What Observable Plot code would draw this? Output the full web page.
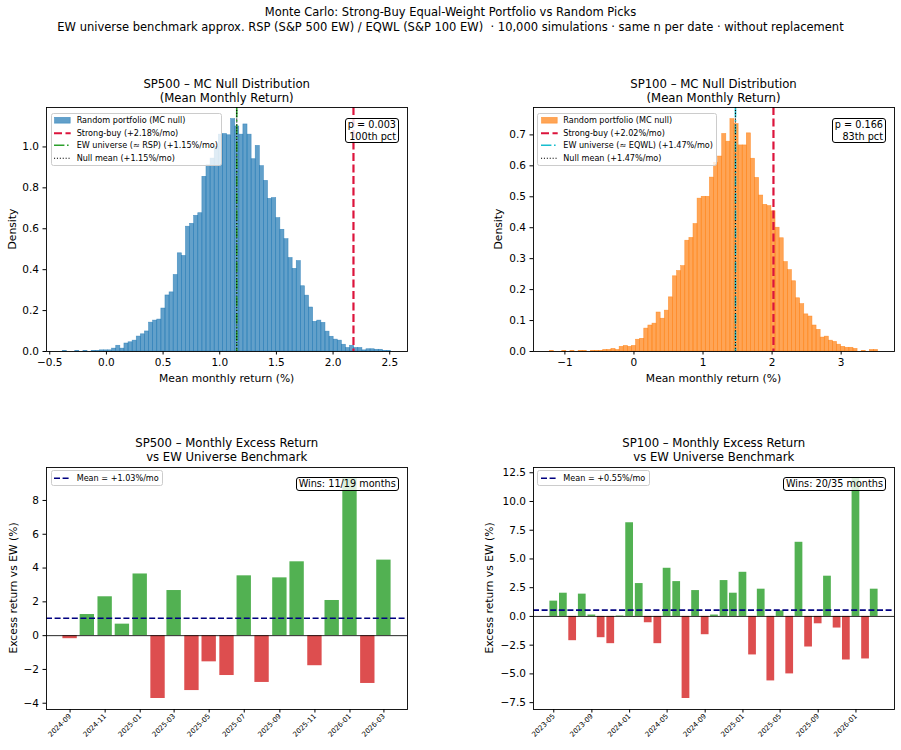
<!DOCTYPE html>
<html><head><meta charset="utf-8">
<script src="https://cdn.jsdelivr.net/npm/d3@7"></script>
<script src="https://cdn.jsdelivr.net/npm/@observablehq/plot@0.6"></script>
<style>
body{margin:0;background:#fff;}
#fig{position:relative;width:901px;height:750px;font-family:"DejaVu Sans",sans-serif;color:#000;overflow:hidden;background:#fff;}
.panel{position:absolute;}
.title{position:absolute;font-size:11.7px;line-height:14px;text-align:center;white-space:nowrap;transform:translateX(-50%);}
.suptitle{position:absolute;left:450.5px;top:4.5px;font-size:11.5px;line-height:15px;text-align:center;white-space:nowrap;transform:translateX(-50%);}
.xlab{position:absolute;font-size:10.75px;white-space:nowrap;transform:translate(-50%,-50%);}
.ylab{position:absolute;font-size:10.75px;white-space:nowrap;transform:translate(-50%,-50%) rotate(-90deg);}
.legend{position:absolute;background:rgba(255,255,255,0.8);border:1px solid #cccccc;border-radius:2.5px;padding:0.5px 3.5px 0.5px 2.6px;font-size:8.1px;}
.legend .row{display:flex;align-items:center;height:12.5px;white-space:nowrap;}
.legend .row svg{flex:none;margin-right:5.7px;}
.note{position:absolute;background:rgba(255,255,255,0.8);border:1px solid #000;border-radius:3px;padding:0 2px;font-size:9.7px;line-height:11.4px;text-align:right;white-space:nowrap;}
</style></head>
<body><div id="fig"></div>
<script>
// ---------- DATA ----------
// Monte Carlo null distributions (density per bin)
const sp500BinStart = -0.384;
const sp500BinWidth = 0.0362;
const sp500Density = [0.0028,0,0,0.0028,0,0.0028,0,0.0028,0.0028,0.0056,0.0056,0.0056,0.014,0.028,0.014,0.039,0.045,0.053,0.073,0.084,
  0.098,0.141,0.151,0.156,0.21,0.274,0.289,0.374,0.48,0.467,0.61,0.624,0.663,0.676,0.854,0.91,0.943,1.0,1.06,1.063,
  1.057,1.136,1.10,1.06,1.11,1.06,0.94,1.005,0.906,0.834,0.746,0.75,0.652,0.595,0.549,0.457,0.404,0.442,0.319,0.273,
  0.215,0.145,0.151,0.14,0.097,0.072,0.058,0.053,0.033,0.017,0.028,0.017,0.017,0.0056,0.011,0.011,0.0084,0.0084,0.0028,0.0028];
const sp100BinStart = -1.217;
const sp100BinWidth = 0.0594;
const sp100Density = [0.0017,0,0,0.0017,0,0.0017,0,0.0017,0.0017,0,0.0017,0.0017,0.0017,0.005,0.005,0.0084,0.005,0.015,0.018,0.015,
  0.018,0.038,0.041,0.074,0.084,0.09,0.126,0.106,0.132,0.175,0.243,0.26,0.276,0.358,0.367,0.412,0.494,0.5,0.5,0.562,
  0.61,0.63,0.703,0.678,0.751,0.735,0.666,0.666,0.705,0.623,0.561,0.504,0.474,0.47,0.453,0.40,0.366,0.289,0.263,0.227,
  0.172,0.153,0.12,0.113,0.084,0.07,0.045,0.048,0.035,0.031,0.022,0.015,0.012,0.012,0.0084,0,0.0017,0,0.005,0.005];

const sp500StrongBuy = 2.18, sp500EW = 1.15, sp500NullMean = 1.15, sp500P = "0.003", sp500Pct = "100th";
const sp100StrongBuy = 2.02, sp100EW = 1.47, sp100NullMean = 1.47, sp100P = "0.166", sp100Pct = "83th";

const sp500HistXTicks = [-0.5, 0, 0.5, 1.0, 1.5, 2.0, 2.5];
const sp500HistYTicks = [0, 0.2, 0.4, 0.6, 0.8, 1.0];
const sp100HistXTicks = [-1, 0, 1, 2, 3];
const sp100HistYTicks = [0, 0.1, 0.2, 0.3, 0.4, 0.5, 0.6, 0.7];

// Monthly excess returns vs EW universe (%)
const sp500Months = ["2024-09","2024-10","2024-11","2024-12","2025-01","2025-02","2025-03","2025-04","2025-05","2025-06",
  "2025-07","2025-08","2025-09","2025-10","2025-11","2025-12","2026-01","2026-02","2026-03"];
const sp500Excess = [-0.18,1.25,2.3,0.68,3.65,-3.72,2.67,-3.25,-1.55,-2.36,3.54,-2.77,3.42,4.37,-1.78,2.08,9.3,-2.83,4.47];
const sp500Mean = 1.03;
const sp500DateTicks = ["2024-09","2024-11","2025-01","2025-03","2025-05","2025-07","2025-09","2025-11","2026-01","2026-03"];
const sp500ExcessYTicks = [-4,-2,0,2,4,6,8];

const sp100Months = ["2023-05","2023-06","2023-07","2023-08","2023-09","2023-10","2023-11","2023-12",
  "2024-01","2024-02","2024-03","2024-04","2024-05","2024-06","2024-07","2024-08","2024-09","2024-10","2024-11","2024-12",
  "2025-01","2025-02","2025-03","2025-04","2025-05","2025-06","2025-07","2025-08","2025-09","2025-10","2025-11","2025-12",
  "2026-01","2026-02","2026-03"];
const sp100Excess = [1.33,2.02,-2.11,1.94,0.12,-1.85,-2.37,0.04,
  8.15,2.86,-0.55,-2.37,4.19,3.03,-7.14,2.25,-1.59,0.12,3.12,2.02,
  3.84,-3.35,2.37,-5.61,0.49,-5.0,6.45,-2.66,-0.64,3.5,-1.01,-3.79,
  12.0,-3.7,2.37];
const sp100Mean = 0.55;
const sp100DateTicks = ["2023-05","2023-09","2024-01","2024-05","2024-09","2025-01","2025-05","2025-09","2026-01"];
const sp100ExcessYTicks = [-7.5,-5,-2.5,0,2.5,5,7.5,10,12.5];

// ---------- HELPERS ----------
const fig = document.getElementById("fig");
const C_BLUE = "#1f77b4", C_ORANGE = "#ff7f0e", C_RED = "#dc143c", C_GREEN = "#2ca02c", C_CYAN = "#17becf";
const C_WIN = "#2ca02c", C_LOSS = "#d62728";
const baseStyle = {fontFamily: "DejaVu Sans, sans-serif", fontSize: "10.5px", background: "transparent", overflow: "visible", color: "#000"};

function el(tag, cls, css, html) {
  const e = document.createElement(tag);
  if (cls) e.className = cls;
  if (css) Object.assign(e.style, css);
  if (html != null) e.innerHTML = html;
  fig.appendChild(e);
  return e;
}
function place(svg, left, top) {
  const d = el("div", "panel", {left: left + "px", top: top + "px"});
  d.appendChild(svg);
}
const parseMonth = d3.utcParse("%Y-%m");
const HALF = 12.5 * 864e5;

function histPlot(o) {
  const bins = o.density.map((d, i) => ({x1: o.start + i * o.width, x2: o.start + (i + 1) * o.width, y: d}));
  const lo = o.start, hi = o.start + o.density.length * o.width, pad = 0.05 * (hi - lo);
  return Plot.plot({
    width: o.w, height: 300, marginLeft: o.ml, marginRight: o.mr, marginTop: 7, marginBottom: 49,
    style: baseStyle,
    x: {domain: [lo - pad, hi + pad]},
    y: {domain: [0, d3.max(o.density) * 1.05]},
    marks: [
      Plot.rectY(bins, {x1: "x1", x2: "x2", y: "y", fill: o.color, fillOpacity: 0.7, stroke: o.color, strokeOpacity: 0.7, strokeWidth: 0.6}),
      Plot.ruleX([o.strong], {stroke: C_RED, strokeWidth: 2.2, strokeDasharray: "8,3.5"}),
      Plot.ruleX([o.ew], {stroke: o.ewColor, strokeWidth: 1.6, strokeDasharray: "10.4,2.6,1.6,2.6"}),
      Plot.ruleX([o.nullMean], {stroke: "#000", strokeWidth: 1.1, strokeDasharray: "1.1,1.8"}),
      Plot.axisX({ticks: o.xTicks, tickFormat: o.xFmt, tickSize: 3.5, tickPadding: 4, label: null}),
      Plot.axisY({ticks: o.yTicks, tickFormat: d3.format(".1f"), tickSize: 3.5, tickPadding: 4, label: null}),
      Plot.frame({stroke: "#000", strokeWidth: 0.9})
    ]
  });
}

function barPlot(o) {
  const rows = o.months.map((m, i) => ({d: parseMonth(m), v: o.values[i]}));
  const t0 = +rows[0].d - HALF, t1 = +rows[rows.length - 1].d + HALF, tp = 0.05 * (t1 - t0);
  const vmin = Math.min(0, d3.min(o.values)), vmax = Math.max(0, d3.max(o.values)), vp = 0.05 * (vmax - vmin);
  return Plot.plot({
    width: o.w, height: 290, marginLeft: o.ml, marginRight: o.mr, marginTop: 7, marginBottom: 41,
    style: baseStyle,
    x: {type: "utc", domain: [new Date(t0 - tp), new Date(t1 + tp)]},
    y: {domain: [vmin - vp, vmax + vp]},
    marks: [
      Plot.rectY(rows.filter(r => r.v >= 0), {x1: r => new Date(+r.d - HALF), x2: r => new Date(+r.d + HALF), y: "v", fill: C_WIN, fillOpacity: 0.82}),
      Plot.rectY(rows.filter(r => r.v < 0), {x1: r => new Date(+r.d - HALF), x2: r => new Date(+r.d + HALF), y: "v", fill: C_LOSS, fillOpacity: 0.82}),
      Plot.ruleY([0], {stroke: "#000", strokeWidth: 0.85}),
      Plot.ruleY([o.mean], {stroke: "#000080", strokeWidth: 1.6, strokeDasharray: "6,2.6"}),
      Plot.axisX({ticks: o.ticks.map(parseMonth), tickFormat: d3.utcFormat("%Y-%m"), tickSize: 3.5, tickPadding: 2, tickRotate: -45, fontSize: 7, label: null}),
      Plot.axisY({ticks: o.yTicks, tickFormat: o.yFmt, tickSize: 3.5, tickPadding: 4, label: null}),
      Plot.frame({stroke: "#000", strokeWidth: 0.9})
    ]
  });
}

// legend handle svgs
const W = 16.7, H = 12.5;
function hPatch(c) { return `<svg width="${W}" height="${H}"><rect x="0.5" y="${H/2-2.9}" width="${W-1}" height="5.8" fill="${c}" fill-opacity="0.7" stroke="${c}" stroke-opacity="0.7" stroke-width="0.6"/></svg>`; }
function hLine(c, w, dash) { return `<svg width="${W}" height="${H}"><line x1="0" x2="${W}" y1="${H/2}" y2="${H/2}" stroke="${c}" stroke-width="${w}" stroke-dasharray="${dash}"/></svg>`; }
function legend(left, top, items) {
  el("div", "legend", {left: left + "px", top: top + "px"},
    items.map(([h, t]) => `<div class="row">${h}<span>${t}</span></div>`).join(""));
}
const fmtPct = v => (v >= 0 ? "+" : "−") + Math.abs(v).toFixed(2) + "%/mo";

// ---------- FIGURE ----------
el("div", "suptitle", null, "Monte Carlo: Strong-Buy Equal-Weight Portfolio vs Random Picks<br>EW universe benchmark approx. RSP (S&amp;P 500 EW) / EQWL (S&amp;P 100 EW) &nbsp;· 10,000 simulations · same n per date · without replacement");

// Top-left: SP500 histogram
place(histPlot({density: sp500Density, start: sp500BinStart, width: sp500BinWidth, color: C_BLUE,
  strong: sp500StrongBuy, ew: sp500EW, ewColor: C_GREEN, nullMean: sp500NullMean,
  xTicks: sp500HistXTicks, xFmt: d3.format(".1f"), yTicks: sp500HistYTicks, w: 420, ml: 46, mr: 13}), 0, 100);
el("div", "title", {left: "226.7px", top: "77px"}, "SP500 – MC Null Distribution<br>(Mean Monthly Return)");
el("div", "xlab", {left: "226.7px", top: "377.7px"}, "Mean monthly return (%)");
el("div", "ylab", {left: "11.7px", top: "229px"}, "Density");
legend(50.7, 112.7, [
  [hPatch(C_BLUE), "Random portfolio (MC null)"],
  [hLine(C_RED, 2.2, "8,3.5"), `Strong-buy (${fmtPct(sp500StrongBuy)})`],
  [hLine(C_GREEN, 1.6, "10.4,2.6,1.6,2.6"), `EW universe (≈ RSP) (${fmtPct(sp500EW)})`],
  [hLine("#000", 1.1, "1.1,1.8"), `Null mean (${fmtPct(sp500NullMean)})`]
]);
el("div", "note", {right: (901 - 399) + "px", top: "118.3px"}, `p = ${sp500P}<br>${sp500Pct} pct`);

// Top-right: SP100 histogram
place(histPlot({density: sp100Density, start: sp100BinStart, width: sp100BinWidth, color: C_ORANGE,
  strong: sp100StrongBuy, ew: sp100EW, ewColor: C_CYAN, nullMean: sp100NullMean,
  xTicks: sp100HistXTicks, xFmt: d3.format("d"), yTicks: sp100HistYTicks, w: 451, ml: 83, mr: 7}), 450, 100);
el("div", "title", {left: "713.5px", top: "77px"}, "SP100 – MC Null Distribution<br>(Mean Monthly Return)");
el("div", "xlab", {left: "713.5px", top: "377.7px"}, "Mean monthly return (%)");
el("div", "ylab", {left: "498.3px", top: "229px"}, "Density");
legend(537.3, 112.7, [
  [hPatch(C_ORANGE), "Random portfolio (MC null)"],
  [hLine(C_RED, 2.2, "8,3.5"), `Strong-buy (${fmtPct(sp100StrongBuy)})`],
  [hLine(C_CYAN, 1.6, "10.4,2.6,1.6,2.6"), `EW universe (≈ EQWL) (${fmtPct(sp100EW)})`],
  [hLine("#000", 1.1, "1.1,1.8"), `Null mean (${fmtPct(sp100NullMean)})`]
]);
el("div", "note", {right: (901 - 886) + "px", top: "118.3px"}, `p = ${sp100P}<br>${sp100Pct} pct`);

// Bottom-left: SP500 excess
place(barPlot({months: sp500Months, values: sp500Excess, mean: sp500Mean, ticks: sp500DateTicks,
  yTicks: sp500ExcessYTicks, yFmt: d3.format("d"), w: 420, ml: 46, mr: 13}), 0, 460);
el("div", "title", {left: "226.7px", top: "436px"}, "SP500 – Monthly Excess Return<br>vs EW Universe Benchmark");
el("div", "ylab", {left: "12.7px", top: "588px"}, "Excess return vs EW (%)");
legend(50.7, 470, [[hLine("#000080", 1.6, "6,2.6"), `Mean = ${fmtPct(sp500Mean)}`]]);
el("div", "note", {right: (901 - 398.7) + "px", top: "477.3px", lineHeight: "12px"},
  `Wins: ${sp500Excess.filter(v => v > 0).length}/${sp500Excess.length} months`);

// Bottom-right: SP100 excess
place(barPlot({months: sp100Months, values: sp100Excess, mean: sp100Mean, ticks: sp100DateTicks,
  yTicks: sp100ExcessYTicks, yFmt: d3.format(".1f"), w: 451, ml: 83, mr: 7}), 450, 460);
el("div", "title", {left: "713.8px", top: "436px"}, "SP100 – Monthly Excess Return<br>vs EW Universe Benchmark");
el("div", "ylab", {left: "489.3px", top: "588px"}, "Excess return vs EW (%)");
legend(537.3, 470, [[hLine("#000080", 1.6, "6,2.6"), `Mean = ${fmtPct(sp100Mean)}`]]);
el("div", "note", {right: (901 - 886) + "px", top: "477.3px", lineHeight: "12px"},
  `Wins: ${sp100Excess.filter(v => v > 0).length}/${sp100Excess.length} months`);
</script></body></html>
